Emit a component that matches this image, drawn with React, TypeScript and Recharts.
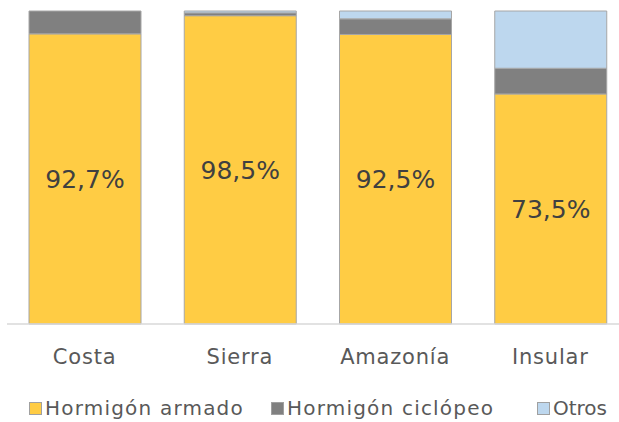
import { BarChart, Bar, XAxis, YAxis, LabelList, Legend } from "recharts";

const regions = ["Costa", "Sierra", "Amazonía", "Insular"];
const armado = [92.7, 98.5, 92.5, 73.5];
const ciclopeo = [7.3, 0.9, 5.0, 8.2];
const otros = [0, 0.6, 2.5, 18.3];

const seriesNames = ["Hormigón armado", "Hormigón ciclópeo", "Otros"];
const seriesColours = ["#FFCC44", "#808080", "#BDD7EE"];

const data = regions.map((region, i) => ({
  region,
  armado: armado[i],
  ciclopeo: ciclopeo[i],
  otros: otros[i],
}));

const FONT = "'DejaVu Sans', sans-serif";

function LegendBox() {
  const lefts = [29, 271, 537];
  return (
    <div style={{ position: "relative", height: 54, width: 619, fontFamily: FONT }}>
      {seriesNames.map((name, i) => (
        <div
          key={name}
          style={{
            position: "absolute",
            left: lefts[i],
            top: 28,
            display: "flex",
            alignItems: "center",
            fontSize: 20,
            color: "#595959",
            letterSpacing: i < 2 ? 1.2 : 0,
            whiteSpace: "nowrap",
          }}
        >
          <span
            style={{
              display: "inline-block",
              width: 11,
              height: 11,
              background: seriesColours[i],
              border: "1px solid #a0a0a0",
              marginRight: 3,
            }}
          />
          {name}
        </div>
      ))}
    </div>
  );
}

export default function App() {
  return (
    <div
      style={{
        position: "absolute",
        left: 0,
        top: 0,
        width: 619,
        height: 422,
        overflow: "hidden",
        background: "#fff",
      }}
    >
      <BarChart
        width={630}
        height={422}
        data={data}
        margin={{ top: 11, right: 2, left: 7, bottom: 0 }}
        barSize={112}
      >
        <XAxis
          dataKey="region"
          axisLine={{ stroke: "#d9d9d9", strokeWidth: 1.5 }}
          tickLine={false}
          tickSize={0}
          tickMargin={25}
          height={44}
          tick={{ fill: "#595959", fontSize: 21, fontFamily: FONT, letterSpacing: 0.8 }}
        />
        <YAxis hide domain={[0, 100]} />
        <Legend verticalAlign="bottom" content={() => <LegendBox />} wrapperStyle={{ left: 0, width: 619 }} />
        <Bar
          dataKey="armado"
          stackId="a"
          fill={seriesColours[0]}
          stroke="#a6a6a6"
          strokeWidth={1}
          isAnimationActive={false}
        >
          <LabelList
            dataKey="armado"
            position="center"
            formatter={(v: number) => `${v.toFixed(1).replace(".", ",")}%`}
            style={{ fill: "#404040", fontSize: 25, fontFamily: FONT }}
          />
        </Bar>
        <Bar
          dataKey="ciclopeo"
          stackId="a"
          fill={seriesColours[1]}
          stroke="#a6a6a6"
          strokeWidth={1}
          isAnimationActive={false}
        />
        <Bar
          dataKey="otros"
          stackId="a"
          fill={seriesColours[2]}
          stroke="#a6a6a6"
          strokeWidth={1}
          isAnimationActive={false}
        />
      </BarChart>
    </div>
  );
}
